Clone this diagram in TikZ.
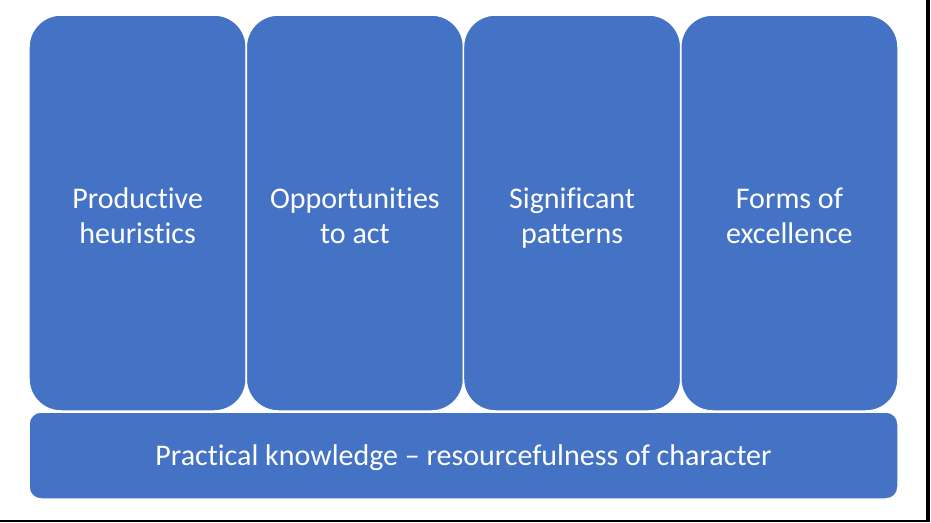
\documentclass[tikz,border=0pt]{standalone}
\usepackage{fontspec}
\setmainfont[Ligatures=NoCommon]{Carlito}
\definecolor{officeblue}{HTML}{4472C4}
\newcommand{\depthfix}{\rule[-8pt]{0pt}{8pt}}
\newcommand{\heightfix}{\rule{0pt}{33pt}}
\tikzset{
  pillar/.style={rectangle, fill=officeblue, draw=white, line width=1.5pt,
    rounded corners=32pt, minimum width=217.25pt, minimum height=396pt,
    inner sep=0pt, outer sep=0pt, text=white, align=center,
    font=\fontsize{30}{35}\selectfont},
  basebox/.style={rectangle, fill=officeblue, draw=white, line width=1.5pt,
    rounded corners=12pt, minimum width=869pt, minimum height=87pt,
    inner sep=0pt, outer sep=0pt, text=white, align=center,
    font=\fontsize{30}{35}\selectfont},
  frameline/.style={fill=black}
}
\begin{document}
\begin{tikzpicture}[x=1pt,y=-1pt]
\useasboundingbox (0,0) rectangle (931,522);
\node[pillar] (p1) at (137.6,213) {\heightfix Productive\\heuristics\depthfix};
\node[pillar] (p2) at (354.9,213) {\heightfix Opportunities\\to act\depthfix};
\node[pillar] (p3) at (572.1,213) {\heightfix Significant\\patterns\depthfix};
\node[pillar] (p4) at (789.4,213) {\heightfix Forms of\\excellence\depthfix};
\node[basebox] (base) at (463.5,455.5) {\rule{0pt}{26pt}Practical knowledge -- resourcefulness of character};
\fill[frameline] (926,0) rectangle (930,522);
\fill[frameline] (0,520) rectangle (930,522);
\end{tikzpicture}
\end{document}
